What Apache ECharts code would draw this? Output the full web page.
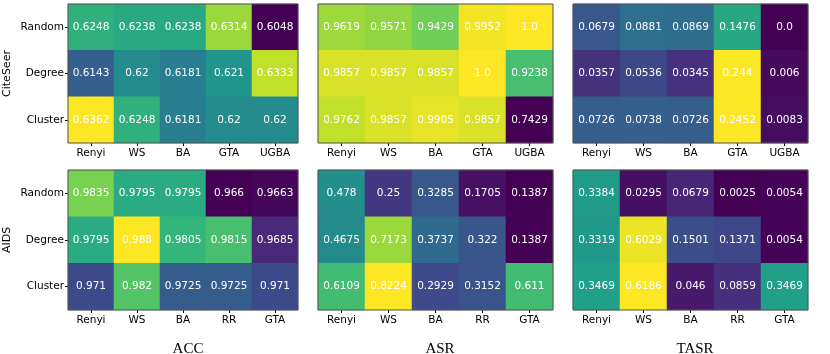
<!DOCTYPE html>
<html>
<head>
<meta charset="utf-8">
<script src="https://cdn.jsdelivr.net/npm/echarts@6/dist/echarts.min.js"></script>
<style>
html,body{margin:0;padding:0;background:#fff}
#main{width:830px;height:354px}
</style>
</head>
<body>
<div id="main"></div>
<script>
var rows = ['Random', 'Degree', 'Cluster']
var citeCols = ['Renyi', 'WS', 'BA', 'GTA', 'UGBA']
var aidsCols = ['Renyi', 'WS', 'BA', 'RR', 'GTA']
var metrics = ['ACC', 'ASR', 'TASR']
var datasets = ['CiteSeer', 'AIDS']

var citeAcc = [[0.6248, 0.6238, 0.6238, 0.6314, 0.6048], [0.6143, 0.62, 0.6181, 0.621, 0.6333], [0.6362, 0.6248, 0.6181, 0.62, 0.62]]
var citeAsr = [[0.9619, 0.9571, 0.9429, 0.9952, 1.0], [0.9857, 0.9857, 0.9857, 1.0, 0.9238], [0.9762, 0.9857, 0.9905, 0.9857, 0.7429]]
var citeTasr = [[0.0679, 0.0881, 0.0869, 0.1476, 0.0], [0.0357, 0.0536, 0.0345, 0.244, 0.006], [0.0726, 0.0738, 0.0726, 0.2452, 0.0083]]
var aidsAcc = [[0.9835, 0.9795, 0.9795, 0.966, 0.9663], [0.9795, 0.988, 0.9805, 0.9815, 0.9685], [0.971, 0.982, 0.9725, 0.9725, 0.971]]
var aidsAsr = [[0.478, 0.25, 0.3285, 0.1705, 0.1387], [0.4675, 0.7173, 0.3737, 0.322, 0.1387], [0.6109, 0.8224, 0.2929, 0.3152, 0.611]]
var aidsTasr = [[0.3384, 0.0295, 0.0679, 0.0025, 0.0054], [0.3319, 0.6029, 0.1501, 0.1371, 0.0054], [0.3469, 0.6186, 0.046, 0.0859, 0.3469]]

// viridis
var viridis = ['#440154', '#482878', '#3e4989', '#31688e', '#26828e', '#1f9e89', '#35b779', '#6ece58', '#b5de2b', '#fde725']

var panels = [
  {m: citeAcc, cols: citeCols, r: 0, c: 0},
  {m: citeAsr, cols: citeCols, r: 0, c: 1},
  {m: citeTasr, cols: citeCols, r: 0, c: 2},
  {m: aidsAcc, cols: aidsCols, r: 1, c: 0},
  {m: aidsAsr, cols: aidsCols, r: 1, c: 1},
  {m: aidsTasr, cols: aidsCols, r: 1, c: 2}
]
var lefts = [68, 318, 573]
var widths = [230, 235, 235]
var tops = [4, 170]
var heights = [139, 140]
var titleX = [183, 435, 690]

var font = 'DejaVu Sans'
var grid = [], xAxis = [], yAxis = [], series = [], visualMap = []

panels.forEach(function (p, i) {
  grid.push({
    left: lefts[p.c], top: tops[p.r], width: widths[p.c], height: heights[p.r],
    show: true, borderColor: '#555', borderWidth: 1, backgroundColor: 'transparent', z: 5
  })
  xAxis.push({
    type: 'category', gridIndex: i, data: p.cols,
    axisLine: {show: false},
    axisTick: {show: true, alignWithLabel: true, length: 3, lineStyle: {color: '#000'}},
    axisLabel: {color: '#000', fontFamily: font, fontSize: 10.5, margin: 5},
    splitLine: {show: false}
  })
  yAxis.push({
    type: 'category', gridIndex: i, data: rows, inverse: true,
    axisLine: {show: false},
    axisTick: {show: p.c === 0, alignWithLabel: true, length: 3, lineStyle: {color: '#000'}},
    axisLabel: {show: p.c === 0, color: '#000', fontFamily: font, fontSize: 10.5, margin: 4},
    name: p.c === 0 ? datasets[p.r] : '',
    nameLocation: 'middle', nameGap: 55, nameRotate: 90,
    nameTextStyle: {color: '#000', fontFamily: font, fontSize: 11}
  })
  var data = [], mn = Infinity, mx = -Infinity
  p.m.forEach(function (row, yi) {
    row.forEach(function (v, xi) {
      data.push([xi, yi, v])
      mn = Math.min(mn, v); mx = Math.max(mx, v)
    })
  })
  visualMap.push({
    show: false, seriesIndex: i, min: mn, max: mx, dimension: 2,
    inRange: {color: viridis}
  })
  series.push({
    type: 'heatmap', xAxisIndex: i, yAxisIndex: i, data: data,
    label: {
      show: true, color: '#fff', fontFamily: font, fontSize: 10.5,
      formatter: function (d) {
        var v = d.value[2]
        return Number.isInteger(v) ? v.toFixed(1) : String(v)
      }
    },
    itemStyle: {borderWidth: 0},
    emphasis: {disabled: true}
  })
})

var title = metrics.map(function (t, i) {
  return {
    text: t, left: titleX[i], top: 337, textAlign: 'center',
    textStyle: {fontFamily: 'Liberation Serif', fontWeight: 'normal', fontSize: 15, color: '#000'}
  }
})

var chart = echarts.init(document.getElementById('main'))
chart.setOption({
  animation: false,
  title: title,
  grid: grid,
  xAxis: xAxis,
  yAxis: yAxis,
  visualMap: visualMap,
  series: series
})
</script>
</body>
</html>
